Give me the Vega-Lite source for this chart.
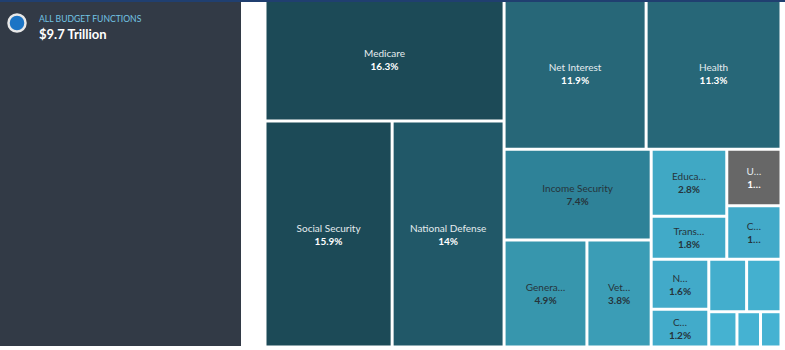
{
  "$schema": "https://vega.github.io/schema/vega-lite/v6.json",
  "padding": 0,
  "background": "white",
  "config": {"view": {"stroke": null}, "font": "Lato"},
  "spacing": 0,
  "vconcat": [
    {
      "width": 785,
      "height": 2,
      "view": {"fill": "#203f70", "stroke": null},
      "data": {"values": []},
      "mark": "point",
      "encoding": {}
    },
    {
      "spacing": 24,
      "hconcat": [
        {
          "width": 241,
          "height": 344,
          "view": {"fill": "#323a46", "stroke": null},
          "title": {
            "text": "ALL BUDGET FUNCTIONS",
            "subtitle": "$9.7 Trillion",
            "anchor": "start",
            "frame": "group",
            "orient": "top",
            "offset": -40,
            "dx": 39,
            "font": "Lato",
            "fontSize": 8.6,
            "fontWeight": "normal",
            "color": "#72c4e4",
            "subtitleFont": "Lato",
            "subtitleFontSize": 13,
            "subtitleFontWeight": "bold",
            "subtitleColor": "#ffffff",
            "subtitlePadding": 5
          },
          "data": {"values": [{"scope": "ALL BUDGET FUNCTIONS", "total": "$9.7 Trillion"}]},
          "mark": {"type": "point", "opacity": 0, "filled": true},
          "encoding": {
            "color": {
              "field": "scope",
              "type": "nominal",
              "scale": {"range": ["#1b74c5"]},
              "legend": {
                "orient": "none",
                "legendX": 7,
                "legendY": 11,
                "title": null,
                "labelExpr": "''",
                "symbolType": "circle",
                "symbolSize": 290,
                "padding": 0,
                "encode": {
                  "symbols": {
                    "update": {
                      "stroke": {"value": "#e8e8e8"},
                      "strokeWidth": {"value": 2.5},
                      "fill": {"value": "#1b74c5"},
                      "opacity": {"value": 1},
                      "fillOpacity": {"value": 1}
                    }
                  }
                }
              }
            }
          }
        },
        {
          "width": 516,
          "height": 344,
          "data": {
            "values": [
              {"name": "Medicare", "pct": 16.3, "shown": "16.3%", "path": "Aa"},
              {"name": "Social Security", "pct": 15.9, "shown": "15.9%", "path": "Aba"},
              {"name": "National Defense", "pct": 14, "shown": "14%", "path": "Abb"},
              {"name": "Net Interest", "pct": 11.9, "shown": "11.9%", "path": "Baa"},
              {"name": "Health", "pct": 11.3, "shown": "11.3%", "path": "Bab"},
              {"name": "Income Security", "pct": 7.4, "shown": "7.4%", "path": "Bbaa"},
              {"name": "Genera…", "pct": 4.9, "shown": "4.9%", "path": "Bbaba"},
              {"name": "Vet…", "pct": 3.8, "shown": "3.8%", "path": "Bbabb"},
              {"name": "Educa…", "pct": 2.8, "shown": "2.8%", "path": "Bbbaaa"},
              {"name": "Trans…", "pct": 1.8, "shown": "1.8%", "path": "Bbbaab"},
              {"name": "U…", "pct": 1.7, "shown": "1…", "path": "Bbbaba"},
              {"name": "C…", "pct": 1.6, "shown": "1…", "path": "Bbbabb"},
              {"name": "N…", "pct": 1.6, "shown": "1.6%", "path": "Bbbbaa"},
              {"name": "C…", "pct": 1.2, "shown": "1.2%", "path": "Bbbbab"},
              {"name": "", "pct": 1.1, "shown": "", "path": "Bbbbbaa"},
              {"name": "", "pct": 1.0, "shown": "", "path": "Bbbbbab"},
              {"name": "", "pct": 0.55, "shown": "", "path": "Bbbbbba"},
              {"name": "", "pct": 0.46, "shown": "", "path": "Bbbbbbb"},
              {"name": "", "pct": 0.4, "shown": "", "path": "Bbbbbbc"}
            ]
          },
          "transform": [
            {"calculate": "0", "as": "x0"},
            {"calculate": "1", "as": "x1"},
            {"calculate": "0", "as": "y0"},
            {"calculate": "1", "as": "y1"},
            {"joinaggregate": [{"op": "sum", "field": "pct", "as": "s0"}]},

            {"calculate": "substring(datum.path, 0, 1)", "as": "p1"},
            {"joinaggregate": [{"op": "sum", "field": "pct", "as": "s1"}], "groupby": ["p1"]},
            {"window": [{"op": "sum", "field": "pct", "as": "c1"}], "sort": [{"field": "path"}], "frame": [null, 0]},
            {"joinaggregate": [{"op": "max", "field": "c1", "as": "e1"}], "groupby": ["p1"]},
            {"calculate": "datum.x0 + (datum.x1 - datum.x0) * datum.e1 / datum.s0", "as": "x1"},
            {"calculate": "datum.x0 + (datum.x1 - datum.x0) * (datum.e1 - datum.s1) / datum.e1", "as": "x0"},

            {"calculate": "substring(datum.path, 0, 2)", "as": "p2"},
            {"joinaggregate": [{"op": "sum", "field": "pct", "as": "s2"}], "groupby": ["p2"]},
            {"window": [{"op": "sum", "field": "pct", "as": "c2"}], "sort": [{"field": "path"}], "groupby": ["p1"], "frame": [null, 0]},
            {"joinaggregate": [{"op": "max", "field": "c2", "as": "e2"}], "groupby": ["p2"]},
            {"calculate": "datum.y0 + (datum.y1 - datum.y0) * datum.e2 / datum.s1", "as": "y1"},
            {"calculate": "datum.y0 + (datum.y1 - datum.y0) * (datum.e2 - datum.s2) / datum.e2", "as": "y0"},

            {"calculate": "substring(datum.path, 0, 3)", "as": "p3"},
            {"joinaggregate": [{"op": "sum", "field": "pct", "as": "s3"}], "groupby": ["p3"]},
            {"window": [{"op": "sum", "field": "pct", "as": "c3"}], "sort": [{"field": "path"}], "groupby": ["p2"], "frame": [null, 0]},
            {"joinaggregate": [{"op": "max", "field": "c3", "as": "e3"}], "groupby": ["p3"]},
            {"calculate": "datum.x0 + (datum.x1 - datum.x0) * datum.e3 / datum.s2", "as": "x1"},
            {"calculate": "datum.x0 + (datum.x1 - datum.x0) * (datum.e3 - datum.s3) / datum.e3", "as": "x0"},

            {"calculate": "substring(datum.path, 0, 4)", "as": "p4"},
            {"joinaggregate": [{"op": "sum", "field": "pct", "as": "s4"}], "groupby": ["p4"]},
            {"window": [{"op": "sum", "field": "pct", "as": "c4"}], "sort": [{"field": "path"}], "groupby": ["p3"], "frame": [null, 0]},
            {"joinaggregate": [{"op": "max", "field": "c4", "as": "e4"}], "groupby": ["p4"]},
            {"calculate": "datum.y0 + (datum.y1 - datum.y0) * datum.e4 / datum.s3", "as": "y1"},
            {"calculate": "datum.y0 + (datum.y1 - datum.y0) * (datum.e4 - datum.s4) / datum.e4", "as": "y0"},

            {"calculate": "substring(datum.path, 0, 5)", "as": "p5"},
            {"joinaggregate": [{"op": "sum", "field": "pct", "as": "s5"}], "groupby": ["p5"]},
            {"window": [{"op": "sum", "field": "pct", "as": "c5"}], "sort": [{"field": "path"}], "groupby": ["p4"], "frame": [null, 0]},
            {"joinaggregate": [{"op": "max", "field": "c5", "as": "e5"}], "groupby": ["p5"]},
            {"calculate": "datum.x0 + (datum.x1 - datum.x0) * datum.e5 / datum.s4", "as": "x1"},
            {"calculate": "datum.x0 + (datum.x1 - datum.x0) * (datum.e5 - datum.s5) / datum.e5", "as": "x0"},

            {"calculate": "substring(datum.path, 0, 6)", "as": "p6"},
            {"joinaggregate": [{"op": "sum", "field": "pct", "as": "s6"}], "groupby": ["p6"]},
            {"window": [{"op": "sum", "field": "pct", "as": "c6"}], "sort": [{"field": "path"}], "groupby": ["p5"], "frame": [null, 0]},
            {"joinaggregate": [{"op": "max", "field": "c6", "as": "e6"}], "groupby": ["p6"]},
            {"calculate": "datum.y0 + (datum.y1 - datum.y0) * datum.e6 / datum.s5", "as": "y1"},
            {"calculate": "datum.y0 + (datum.y1 - datum.y0) * (datum.e6 - datum.s6) / datum.e6", "as": "y0"},

            {"calculate": "substring(datum.path, 0, 7)", "as": "p7"},
            {"joinaggregate": [{"op": "sum", "field": "pct", "as": "s7"}], "groupby": ["p7"]},
            {"window": [{"op": "sum", "field": "pct", "as": "c7"}], "sort": [{"field": "path"}], "groupby": ["p6"], "frame": [null, 0]},
            {"joinaggregate": [{"op": "max", "field": "c7", "as": "e7"}], "groupby": ["p7"]},
            {"calculate": "datum.x0 + (datum.x1 - datum.x0) * datum.e7 / datum.s6", "as": "x1"},
            {"calculate": "datum.x0 + (datum.x1 - datum.x0) * (datum.e7 - datum.s7) / datum.e7", "as": "x0"},

            {"calculate": "(datum.x0 + datum.x1) / 2", "as": "cx"},
            {"calculate": "(datum.y0 + datum.y1) / 2", "as": "cy"}
          ],
          "layer": [
            {
              "mark": {"type": "rect", "clip": true, "xOffset": 1.5, "x2Offset": -1.5, "yOffset": 1.5, "y2Offset": -1.5},
              "encoding": {
                "x": {"field": "x0", "type": "quantitative", "scale": {"domain": [0, 1], "nice": false, "zero": false}, "axis": null},
                "x2": {"field": "x1"},
                "y": {"field": "y0", "type": "quantitative", "scale": {"domain": [0, 1], "range": [-4.2, 345], "nice": false, "zero": false}, "axis": null},
                "y2": {"field": "y1"},
                "color": {
                  "condition": {"test": "datum.name === 'U…'", "value": "#676767"},
                  "field": "pct",
                  "type": "quantitative",
                  "scale": {
                    "domain": [0.4, 1.0, 1.2, 2.8, 3.8, 4.9, 7.4, 11.3, 11.9, 14, 15.9, 16.3],
                    "range": ["#45b2d2", "#44b0cf", "#42abca", "#40a8c4", "#3b9db6", "#3796ad", "#2e8298", "#276778", "#276778", "#215868", "#1c4a57", "#1c4a57"],
                    "interpolate": "rgb"
                  },
                  "legend": null
                }
              }
            },
            {
              "mark": {"type": "text", "dy": -5.5, "fontSize": 10, "font": "Lato", "baseline": "middle", "align": "center"},
              "encoding": {
                "x": {"field": "cx", "type": "quantitative", "scale": {"domain": [0, 1], "nice": false, "zero": false}, "axis": null},
                "y": {"field": "cy", "type": "quantitative", "scale": {"domain": [0, 1], "range": [-4.2, 345], "nice": false, "zero": false}, "axis": null},
                "text": {"field": "name"},
                "color": {"condition": {"test": "datum.pct >= 10 || datum.name === 'U…'", "value": "#e4ecef"}, "value": "#26343b"}
              }
            },
            {
              "mark": {"type": "text", "dy": 7.5, "fontSize": 10, "font": "Lato", "fontWeight": "bold", "baseline": "middle", "align": "center"},
              "encoding": {
                "x": {"field": "cx", "type": "quantitative", "scale": {"domain": [0, 1], "nice": false, "zero": false}, "axis": null},
                "y": {"field": "cy", "type": "quantitative", "scale": {"domain": [0, 1], "range": [-4.2, 345], "nice": false, "zero": false}, "axis": null},
                "text": {"field": "shown"},
                "color": {"condition": {"test": "datum.pct >= 10 || datum.name === 'U…'", "value": "#ffffff"}, "value": "#26343b"}
              }
            }
          ]
        }
      ]
    }
  ]
}
